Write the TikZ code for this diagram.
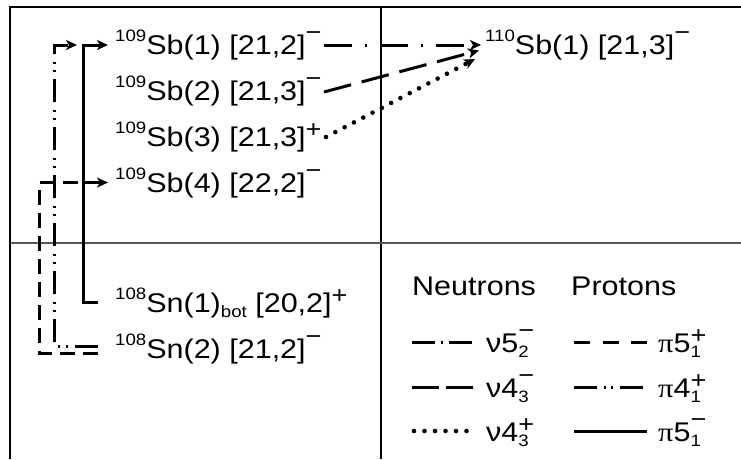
\documentclass[tikz,border=0pt]{standalone}
\usepackage{fontspec}
\setmainfont{Liberation Sans}[FakeStretch=1.13]
\newfontfamily\pifont{Liberation Serif}[FakeStretch=1.13]
\usetikzlibrary{arrows.meta}
\newcommand{\mainsz}{\fontsize{27}{30}\selectfont}
\newcommand{\smallsz}{\fontsize{16.5}{18}\selectfont}
\newcommand{\chgsz}{\fontsize{24}{26}\selectfont}
\newcommand{\isot}[1]{\raisebox{12.5pt}{\smallsz #1}}
\newcommand{\chgm}{\raisebox{13.5pt}{\chgsz −}}
\newcommand{\chgp}{\raisebox{9pt}{\chgsz +}}
\newcommand{\lowtxt}[1]{\raisebox{-5pt}{\smallsz #1}}
\newcommand{\stk}[2]{\rlap{\raisebox{#1}{\chgsz #2}}}
\begin{document}
\begin{tikzpicture}[x=1pt,y=-1pt,
  txt/.style={anchor=base west, inner sep=0pt, font=\mainsz},
  conn/.style={line width=3pt},
  tip/.style={-{Stealth[length=11pt,width=10pt,inset=3pt]}},
  nufive/.style={conn, dash pattern=on 28pt off 13pt on 2pt off 13pt},
  nufourm/.style={conn, dash pattern=on 28pt off 11pt},
  nufourp/.style={line width=4.6pt, line cap=round, dash pattern=on 0pt off 10.5pt},
  pifivep/.style={conn, dash pattern=on 15pt off 8pt},
  pifourp/.style={conn, dash pattern=on 23pt off 7.5pt on 2pt off 6pt on 2pt off 7.5pt},
  pifivem/.style={conn}]
\useasboundingbox (0,0) rectangle (741,459);
% frame
\draw[line width=1.3pt] (381,7) -- (381,459);
\draw[line width=1.8pt, black!65] (10,243) -- (741,243);
\draw[line width=2.4pt] (741,7) -- (10,7) -- (10,459);
% level texts
\node[txt] (sb1) at (115,54) {\isot{109}Sb(1) [21,2]\chgm};
\node[txt] (sb2) at (115,100) {\isot{109}Sb(2) [21,3]\chgm};
\node[txt] (sb3) at (115,146) {\isot{109}Sb(3) [21,3]\chgp};
\node[txt] (sb4) at (115,192) {\isot{109}Sb(4) [22,2]\chgm};
\node[txt] (sn1) at (115,312) {\isot{108}Sn(1)\lowtxt{bot} [20,2]\chgp};
\node[txt] (sn2) at (115,358) {\isot{108}Sn(2) [21,2]\chgm};
\node[txt] (sbt) at (485,54) {\isot{110}Sb(1) [21,3]\chgm};
% connector anchor points
\coordinate (sb1in) at (108,45);
\coordinate (sb1pre) at (77,45);
\coordinate (sb4in) at (108,182.5);
\coordinate (sb4pre) at (80,182.5);
\coordinate (sn1out) at (98,302.5);
\coordinate (sn2outa) at (98,346);
\coordinate (sn2outb) at (98,353);
\coordinate (colsolid) at (83,0);
\coordinate (coldd) at (54,0);
\coordinate (coldash) at (39,0);
\coordinate (sb1out) at (324,45);
\coordinate (sb2out) at (324,92);
\coordinate (sb3out) at (326,137);
\coordinate (sbtin1) at (481,45);
\coordinate (sbtin2) at (479,50.5);
\coordinate (sbtin3) at (475,59);
\coordinate (sbtin3pre) at (467,63.2);
% left connectors
\draw[pifivem, tip] (sn1out) -- (sn1out -| colsolid) -- (sb1in -| colsolid) -- (sb1in);
\draw[pifivem, tip] (sb4in -| colsolid) -- (sb4in);
\draw[pifourp, tip] (sn2outa) -- (sn2outa -| coldd) -- (sb1pre -| coldd) -- (sb1pre);
\draw[pifivep] (sn2outb) -- (sn2outb -| coldash) -- (sb4pre -| coldash) -- (sb4pre);
% right connectors
\draw[nufive, tip] (sb1out) -- (sbtin1);
\draw[nufourm, tip] (sb2out) -- (sbtin2);
\draw[nufourp] (sb3out) -- (sbtin3pre);
\draw[conn, tip] (sbtin3pre) -- (sbtin3);
% legend
\node[txt] (neut) at (412,295) {Neutrons};
\node[txt] (prot) at (571,295) {Protons};
\coordinate (la1) at (412,342); \coordinate (lb1) at (473,342);
\coordinate (la2) at (412,387); \coordinate (lb2) at (473,387);
\coordinate (la3) at (414,431); \coordinate (lb3) at (473,431);
\coordinate (pa1) at (574,342); \coordinate (pb1) at (647,342);
\coordinate (pa2) at (574,387); \coordinate (pb2) at (647,387);
\coordinate (pa3) at (574,431); \coordinate (pb3) at (647,431);
\draw[nufive, dash pattern=on 23pt off 6pt on 2pt off 6pt] (la1) -- (lb1);
\draw[nufourm, dash pattern=on 27pt off 7pt] (la2) -- (lb2);
\draw[nufourp] (la3) -- (lb3);
\draw[pifivep, dash pattern=on 16pt off 12.5pt] (pa1) -- (pb1);
\draw[pifourp, dash pattern=on 23pt off 7pt on 2pt off 5pt on 2pt off 7pt] (pa2) -- (pb2);
\draw[pifivem] (pa3) -- (pb3);
\node[txt] (ln1) at (486,352) {ν5\stk{13.5pt}{−}\lowtxt{2}};
\node[txt] (ln2) at (486,397) {ν4\stk{13.5pt}{−}\lowtxt{3}};
\node[txt] (ln3) at (486,441) {ν4\stk{9pt}{+}\lowtxt{3}};
\node[txt] (lp1) at (658,352) {{\pifont π}5\stk{9pt}{+}\lowtxt{1}};
\node[txt] (lp2) at (658,397) {{\pifont π}4\stk{9pt}{+}\lowtxt{1}};
\node[txt] (lp3) at (658,441) {{\pifont π}5\stk{13.5pt}{−}\lowtxt{1}};
\end{tikzpicture}
\end{document}
